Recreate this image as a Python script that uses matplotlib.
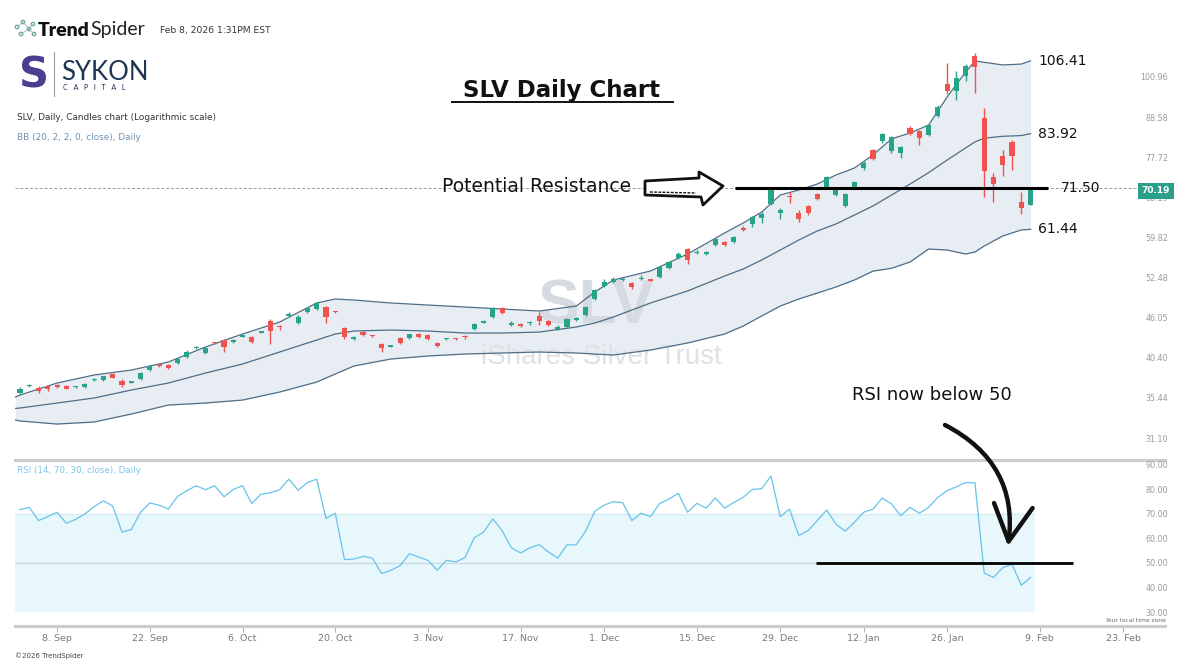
import numpy as np
import pandas as pd
import matplotlib
matplotlib.use('Agg')
import matplotlib.pyplot as plt
import matplotlib.transforms as mtransforms
from matplotlib.patches import Polygon, FancyArrowPatch, Circle
from matplotlib.ticker import NullLocator

W, H = 1183, 667

# trading days (US market holidays skipped)
holidays = ['2025-11-27', '2025-12-25', '2026-01-01', '2026-01-19', '2026-02-16']
days = pd.bdate_range('2025-09-02', '2026-02-27', freq='C', holidays=holidays)

# SLV daily candles, 2 Sep 2025 .. 6 Feb 2026
opens = [36.05, 36.82, 36.60, 36.80, 36.95, 36.80, 36.70, 36.70, 37.60, 37.55,
         38.30, 37.45, 37.25, 37.70, 38.80, 39.60, 39.45, 39.70, 40.50, 41.75,
         41.05, 42.45, 42.80, 42.55, 43.30, 43.25, 43.85, 45.55, 44.75, 46.35,
         45.25, 46.90, 47.35, 47.70, 47.00, 44.50, 43.00, 43.95, 43.45, 42.25,
         41.90, 43.05, 43.10, 43.65, 43.50, 42.40, 42.90, 43.00, 43.30, 44.40,
         45.30, 46.15, 47.50, 44.95, 45.10, 45.20, 46.30, 45.55, 44.40, 44.67,
         45.75, 46.45, 48.94, 51.06, 51.75, 52.10, 51.55, 52.25, 52.15, 52.58,
         54.20, 55.94, 57.60, 56.90, 56.75, 58.37, 59.00, 58.94, 61.70, 62.50,
         63.70, 66.70, 64.75, 68.30, 64.79, 66.28, 68.90, 70.50, 68.70, 66.30,
         70.50, 75.00, 79.56, 82.00, 79.30, 78.80, 85.50, 84.60, 83.50, 89.00,
         98.70, 96.45, 101.30, 108.20, 88.30, 72.90, 78.00, 81.70, 67.15, 66.50]
highs = [36.70, 37.05, 36.85, 37.00, 37.10, 37.00, 36.85, 37.25, 37.85, 38.10,
         38.40, 37.70, 37.40, 38.55, 39.45, 39.75, 39.60, 40.40, 41.40, 42.05,
         41.80, 42.60, 43.00, 42.95, 43.50, 43.35, 44.15, 45.80, 44.90, 46.90,
         46.40, 47.60, 48.40, 47.80, 47.10, 44.70, 43.40, 44.05, 43.55, 42.35,
         42.10, 43.20, 43.70, 43.75, 43.60, 42.50, 43.10, 43.10, 43.50, 45.20,
         45.75, 47.65, 47.70, 45.50, 45.30, 45.60, 46.90, 45.65, 44.90, 46.00,
         46.10, 47.80, 50.60, 52.30, 52.50, 52.60, 51.80, 52.90, 52.30, 54.45,
         55.40, 57.00, 57.80, 57.50, 57.30, 59.70, 59.20, 60.10, 62.10, 64.10,
         65.00, 70.50, 65.80, 69.30, 65.50, 66.60, 69.20, 73.20, 70.60, 69.10,
         71.90, 76.80, 79.90, 84.20, 83.40, 80.70, 86.00, 85.00, 86.60, 92.00,
         105.70, 102.90, 105.30, 109.00, 91.20, 73.90, 79.60, 82.10, 69.30, 70.40]
lows = [35.90, 36.75, 36.05, 36.30, 36.65, 36.50, 36.65, 36.65, 37.50, 37.50,
        37.80, 36.70, 37.20, 37.60, 38.70, 39.20, 39.00, 39.65, 40.40, 41.60,
        40.95, 42.20, 41.20, 42.40, 43.25, 42.35, 43.80, 42.30, 44.30, 46.20,
        45.10, 46.80, 47.20, 45.25, 46.70, 43.00, 42.80, 43.40, 43.25, 41.15,
        41.80, 42.30, 43.00, 43.15, 42.85, 41.80, 42.80, 42.75, 43.00, 44.30,
        45.20, 46.00, 46.60, 44.75, 44.60, 45.00, 45.00, 44.85, 44.20, 44.50,
        45.60, 46.30, 48.80, 50.90, 51.60, 51.90, 50.60, 52.10, 51.85, 52.45,
        54.00, 55.80, 54.80, 56.70, 56.50, 58.20, 58.20, 58.80, 61.10, 61.90,
        62.80, 66.50, 63.50, 66.90, 63.00, 64.40, 67.70, 70.20, 68.40, 66.00,
        70.30, 74.60, 76.90, 81.50, 78.90, 77.60, 83.50, 80.80, 83.20, 88.60,
        95.40, 93.60, 99.50, 95.80, 68.20, 67.20, 73.00, 74.60, 64.60, 66.40]
closes = [36.50, 36.88, 36.30, 36.55, 36.75, 36.55, 36.78, 37.15, 37.72, 38.05,
          37.85, 36.97, 37.35, 38.45, 39.35, 39.30, 39.10, 40.25, 41.15, 41.85,
          41.70, 42.35, 41.85, 42.80, 43.38, 42.55, 43.95, 44.10, 44.60, 46.60,
          46.15, 47.50, 48.30, 46.15, 46.85, 43.20, 43.10, 43.50, 43.35, 41.70,
          42.00, 42.45, 43.60, 43.25, 42.95, 41.95, 43.00, 42.90, 43.20, 45.10,
          45.55, 47.50, 46.76, 45.25, 44.80, 45.45, 45.55, 44.95, 44.70, 45.85,
          45.90, 47.68, 50.40, 51.75, 52.25, 52.25, 50.90, 52.45, 51.95, 54.32,
          55.22, 56.67, 55.58, 57.10, 56.95, 59.52, 58.40, 59.91, 61.30, 63.90,
          64.55, 69.85, 65.45, 68.15, 63.50, 64.79, 67.90, 72.86, 70.30, 68.90,
          71.60, 76.30, 77.30, 83.80, 83.00, 80.30, 83.80, 82.74, 86.30, 91.50,
          96.45, 100.60, 104.70, 104.30, 74.40, 71.20, 75.80, 77.90, 65.90, 70.19]

# Bollinger bands (20, 2) read at these candle positions
bb_pos = [-0.5, 0, 4, 8, 12, 16, 20, 24, 28, 32, 34, 36, 40, 44, 48, 52, 56, 60, 62, 64,
          68, 72, 76, 78, 80, 82, 84, 86, 88, 90, 92, 94, 96, 98, 100, 102, 103, 104,
          106, 108, 109]
bb_upper = [35.55, 35.78, 37.21, 38.20, 38.82, 39.85, 41.85, 43.66, 45.40, 48.31, 48.94,
            48.78, 48.31, 47.99, 47.68, 47.37, 47.06, 47.83, 50.07, 52.07, 53.62, 56.67,
            60.70, 62.70, 64.99, 68.70, 69.83, 71.21, 73.33, 75.03, 78.28, 82.50, 84.10,
            86.30, 94.58, 102.61, 106.35, 105.90, 105.00, 105.30, 106.41]
bb_mid = [34.25, 34.30, 34.86, 35.44, 36.37, 37.21, 38.44, 39.59, 41.17, 42.81, 43.66,
          44.09, 44.23, 44.09, 43.80, 43.80, 43.94, 44.67, 45.25, 46.15, 48.31, 50.24,
          52.75, 53.97, 55.58, 57.42, 59.32, 61.10, 62.50, 64.36, 66.28, 68.70, 71.20,
          73.90, 77.00, 80.10, 81.70, 82.70, 83.20, 83.40, 83.92]
bb_lower = [32.98, 32.88, 32.55, 32.77, 33.63, 34.63, 34.86, 35.20, 36.13, 37.33, 38.32,
            39.33, 40.24, 40.64, 40.90, 41.04, 41.17, 41.04, 40.90, 40.77, 41.44, 42.40,
            43.66, 44.81, 46.30, 47.83, 48.94, 49.90, 50.89, 52.07, 53.60, 54.10, 55.22,
            57.60, 57.42, 56.67, 57.05, 58.17, 60.11, 61.30, 61.44]

# RSI (14) per candle
rsi = [71.8, 72.7, 67.3, 68.9, 70.7, 66.2, 67.8, 70.0, 73.0, 75.4,
       73.2, 62.6, 63.6, 70.7, 74.5, 73.6, 72.0, 77.2, 79.5, 81.5,
       79.9, 81.5, 77.0, 80.0, 81.5, 74.3, 78.1, 78.6, 79.9, 84.2,
       79.7, 82.8, 84.2, 68.2, 70.3, 51.4, 51.6, 52.7, 52.0, 45.7,
       47.0, 48.9, 53.8, 52.4, 51.1, 47.0, 51.1, 50.4, 52.2, 60.3,
       62.6, 68.0, 63.2, 56.2, 54.1, 56.2, 57.5, 54.5, 52.0, 57.4,
       57.4, 63.0, 71.1, 73.6, 75.0, 74.6, 67.3, 70.3, 68.9, 74.3,
       76.1, 78.4, 70.7, 74.3, 72.4, 76.5, 72.4, 74.7, 76.8, 80.0,
       80.3, 85.5, 68.9, 72.0, 61.2, 63.2, 67.3, 71.6, 65.9, 63.0,
       66.6, 70.7, 72.0, 76.5, 74.1, 69.3, 72.7, 70.3, 72.7, 76.8,
       79.5, 81.1, 82.8, 82.7, 45.9, 44.1, 48.1, 49.5, 40.9, 44.1]

tick_dates = ['2025-09-08', '2025-09-22', '2025-10-06', '2025-10-20', '2025-11-03',
              '2025-11-17', '2025-12-01', '2025-12-15', '2025-12-29', '2026-01-12',
              '2026-01-26', '2026-02-09', '2026-02-23']
price_ticks = [31.10, 35.44, 40.40, 46.05, 52.48, 59.82, 68.19, 77.72, 88.58, 100.96]
rsi_ticks = [30, 40, 50, 60, 70, 80, 90]

resistance = 70.4
resistance_label = '71.50'

GREEN = '#26a489'
RED = '#ef5350'
BAND_LINE = '#4f6d87'
BAND_FILL = '#e7edf2'

o = np.array(opens); h = np.array(highs); l = np.array(lows); c = np.array(closes)
x = np.arange(len(c))
last = len(c) - 1

fig = plt.figure(figsize=(W / 100, H / 100), dpi=100)
fig.patch.set_facecolor('white')

ax = fig.add_axes([15 / W, 1 - 460 / H, 1150 / W, 420 / H])
ax_r = fig.add_axes([15 / W, 1 - 626 / H, 1150 / W, 164 / H])
xlim = (-0.54, 123.5)

for a in (ax, ax_r):
    a.set_xlim(*xlim)
    for s in ('top', 'left', 'right'):
        a.spines[s].set_visible(False)
    a.spines['bottom'].set_color('#cdcdcd')
    a.spines['bottom'].set_linewidth(2.3)

# ---------- price panel ----------
ax.set_yscale('log')
ax.set_ylim(28.95, 113.9)
ax.fill_between(bb_pos, bb_lower, bb_upper, color=BAND_FILL, lw=0, zorder=1)
for band in (bb_upper, bb_mid, bb_lower):
    ax.plot(bb_pos, band, color=BAND_LINE, lw=0.9, zorder=2)

# watermark
ax.text(0.505, 0.365, 'SLV', transform=ax.transAxes, ha='center', va='center',
        fontsize=45, fontweight='bold', family='Liberation Sans', color='#d5dbe0', zorder=1.5)
ax.text(0.51, 0.245, 'iShares Silver Trust', transform=ax.transAxes, ha='center',
        va='center', fontsize=20, family='Liberation Sans', color='#dde2e6', zorder=1.5)

up = c >= o
cols = np.where(up, GREEN, RED)
ax.vlines(x, l, h, colors=cols, lw=1, zorder=3)
body_lo = np.minimum(o, c)
body_hi = np.maximum(np.maximum(o, c), body_lo * 1.004)
ax.bar(x, body_hi - body_lo, bottom=body_lo, width=0.55, color=cols, lw=0, zorder=4)

ax.axhline(c[-1], color='#9a9a9a', lw=0.7, ls=(0, (3, 2)), zorder=2.5)
ax.hlines(resistance, 77.1, 110.9, color='black', lw=2.2, zorder=5)

ax.set_xticks([])
ax.set_yticks(price_ticks)
ax.set_yticklabels([f'{v:.2f}' for v in price_ticks])
ax.yaxis.set_minor_locator(NullLocator())
ax.yaxis.tick_right()
ax.tick_params(axis='y', length=0, pad=2.2, labelsize=5.8, labelcolor='#9a9a9a')
for lbl in ax.get_yticklabels():
    lbl.set_horizontalalignment('right')

# band value labels
for val in (bb_upper[-1], bb_mid[-1], bb_lower[-1]):
    ax.text(last + 0.8, val, f'{val:.2f}', ha='left', va='center', fontsize=10,
            color='#111111', zorder=6)
ax.text(last + 3.3, resistance, resistance_label, ha='left', va='center', fontsize=10,
        color='#111111', zorder=6)

# last price badge
blend = mtransforms.blended_transform_factory(ax.transAxes, ax.transData)
ax.text(0.9922, c[-1] * 0.992, f'{c[-1]:.2f}', transform=blend, ha='center', va='center',
        fontsize=6.5, fontweight='bold', color='white', zorder=8, clip_on=False,
        bbox=dict(boxstyle='square,pad=0.42', fc='#2aa08a', ec='none'))

# ---------- RSI panel ----------
ax_r.set_ylim(24.3, 91.2)
ax_r.fill_between([xlim[0], last + 0.5], 30, 70, color='#e8f7fb', lw=0, zorder=1)
ax_r.hlines([70], xlim[0], last + 0.5, color='#d3ebf3', lw=0.9, zorder=1.2)
ax_r.hlines([50], xlim[0], last + 0.5, color='#c9d8e0', lw=0.9, zorder=1.2)
ax_r.plot(x, rsi, color='#66c3ea', lw=0.9, zorder=3)
ax_r.hlines(50, 85.9, 113.6, color='black', lw=2.0, zorder=5)

ax_r.set_yticks(rsi_ticks)
ax_r.set_yticklabels([f'{v:.2f}' for v in rsi_ticks])
ax_r.yaxis.tick_right()
ax_r.tick_params(axis='y', length=0, pad=2.2, labelsize=5.8, labelcolor='#9a9a9a')
for lbl in ax_r.get_yticklabels():
    lbl.set_horizontalalignment('right')

tick_pos = [days.get_loc(pd.Timestamp(d)) for d in tick_dates]
tick_lab = [f'{pd.Timestamp(d).day}. {pd.Timestamp(d).strftime("%b")}' for d in tick_dates]
ax_r.set_xticks(tick_pos)
ax_r.set_xticklabels(tick_lab)
ax_r.tick_params(axis='x', length=4.5, width=0.8, color='#b8b8b8', labelsize=6.8,
                 labelcolor='#7a7a7a', pad=1.5)

ax_r.text(0.002, 0.95, 'RSI (14, 70, 30, close), Daily', transform=ax_r.transAxes,
          fontsize=6.3, color='#7cc6e6', va='center', ha='left')

# ---------- overlay in pixel units for header and hand drawn notes ----------
ov = fig.add_axes([0, 0, 1, 1], zorder=10)
ov.set_xlim(0, W)
ov.set_ylim(H, 0)
ov.axis('off')

# TrendSpider logo
pts = [(17, 27), (23, 22), (29, 29), (21, 34), (33, 24), (34, 34)]
for (p, q) in [(0, 1), (1, 2), (2, 3), (2, 4), (2, 5)]:
    ov.plot([pts[p][0], pts[q][0]], [pts[p][1], pts[q][1]], color='#9bb8b4', lw=0.6)
for px, py in pts:
    ov.add_patch(Circle((px, py), 1.8, fc='white', ec='#5e9f98', lw=0.8))
ov.text(38, 30, 'Trend', fontsize=14, fontweight='heavy', family='Lato', va='center',
        ha='left', color='#111111')
ov.text(90, 30, 'Spider', fontsize=14, family='Lato', va='center', ha='left',
        color='#222222')
ov.text(160, 30, 'Feb 8, 2026 1:31PM EST', fontsize=6.6, va='center', ha='left',
        color='#333333')

# SYKON logo
ov.text(34, 75, 'S', fontsize=30, fontweight='bold', family='DejaVu Sans', color='#4b3d8f',
        ha='center', va='center')
ov.plot([54, 54], [52, 96], color='#9a9a9a', lw=0.8)
ov.text(61, 72, 'SYKON', fontsize=18.5, family='Lato', color='#1e3553', ha='left',
        va='center')
ov.text(63, 88, 'C   A   P   I   T   A   L', fontsize=5.2, family='Lato', color='#1e3553',
        ha='left', va='center')

ov.text(17, 118, 'SLV, Daily, Candles chart (Logarithmic scale)', fontsize=6.4,
        color='#333333', ha='left', va='center')
ov.text(17, 138, 'BB (20, 2, 2, 0, close), Daily', fontsize=6.4, color='#6f92b0',
        ha='left', va='center')

# title
ov.text(562, 90, 'SLV Daily Chart', fontsize=16.5, fontweight='bold', ha='center',
        va='center', color='#111111')
ov.plot([452, 673], [102, 102], color='#111111', lw=1.4)

# potential resistance note
ov.text(442, 186, 'Potential Resistance', fontsize=13.5, ha='left', va='center',
        color='#111111')
arrow = Polygon([(645, 181), (699, 178), (699, 172), (723, 186), (703, 205), (701, 197),
                 (645, 195)], closed=True, fc='white', ec='#111111', lw=2.0, joinstyle='round')
ov.add_patch(arrow)
ov.plot([650, 696], [192, 193], color='#111111', lw=1.0, ls=(0, (2, 1)))

# RSI note
ov.text(852, 395, 'RSI now below 50', fontsize=13, ha='left', va='center', color='#111111')
curve = FancyArrowPatch((945, 425), (1008, 546), connectionstyle='arc3,rad=-0.35',
                        arrowstyle='->,head_length=26,head_width=14', mutation_scale=1,
                        lw=3.2, color='#111111', shrinkA=0, shrinkB=0,
                        capstyle='round', joinstyle='round')
ov.add_patch(curve)

ov.text(1166, 621, 'Your local time zone', fontsize=4.3, color='#666666', ha='right',
        va='center')
ov.text(15, 656, '©2026 TrendSpider', fontsize=5, color='#444444', ha='left', va='center')

fig.savefig('out.png', dpi=100)
